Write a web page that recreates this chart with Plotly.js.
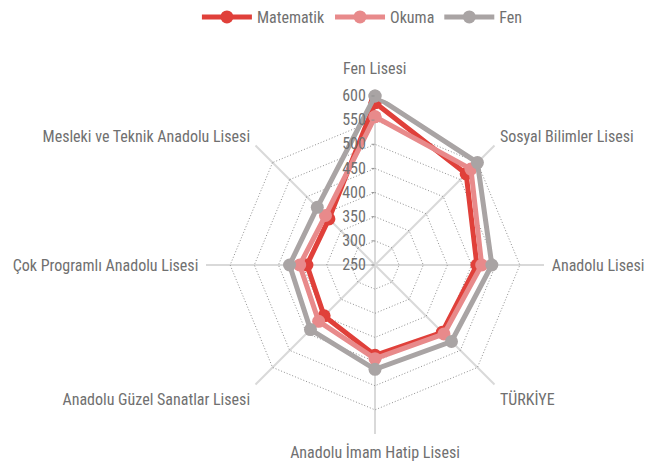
<!DOCTYPE html>
<html>
<head>
<meta charset="utf-8">
<script src="https://cdn.plot.ly/plotly-3.0.1.min.js"></script>
<style>html,body{margin:0;padding:0;background:#fff;}#chart{width:653px;height:461px;}</style>
</head>
<body>
<div id="chart"></div>
<script>
const categories = ["Fen Lisesi","Sosyal Bilimler Lisesi","Anadolu Lisesi","TÜRKİYE","Anadolu İmam Hatip Lisesi","Anadolu Güzel Sanatlar Lisesi","Çok Programlı Anadolu Lisesi","Mesleki ve Teknik Anadolu Lisesi"];
const matematik = [586, 517, 461, 447, 437, 399, 391, 385];
const okuma     = [557, 531, 471, 452, 444, 415, 406, 395];
const fen       = [600, 550, 492, 474, 466, 439, 427, 419];
const radialTicks = [250, 300, 350, 400, 450, 500, 550, 600];

const FONT = '"Roboto Condensed", "Liberation Sans Narrow", "Arial Narrow", sans-serif';
function closed(a){ return a.concat([a[0]]); }
function series(name, vals, color){
  return {
    type: 'scatterpolar', name: name,
    r: closed(vals), theta: closed(categories),
    mode: 'lines+markers',
    line: {color: color, width: 5},
    marker: {color: color, size: 13},
    cliponaxis: false
  };
}
const data = [
  series('Matematik', matematik, '#E0403A'),
  series('Okuma', okuma, '#E88A8B'),
  series('Fen', fen, '#A9A4A4')
];
// top category label is drawn as an annotation so it can sit higher, clear of the radial tick labels
const angLabels = categories.map((c, i) => i === 0 ? '' : c);
const layout = {
  width: 653, height: 461,
  margin: {l: 0, r: 0, t: 0, b: 0},
  paper_bgcolor: '#fff',
  font: {family: FONT, color: '#707070', size: 16},
  showlegend: true,
  legend: {orientation: 'h', x: 0.555, xanchor: 'center', y: 1.0, yanchor: 'top', font: {size: 16, color: '#707070'}, itemwidth: 50},
  annotations: [{
    text: categories[0], xref: 'paper', yref: 'paper',
    x: 375/653, y: 1 - 68/461, xanchor: 'center', yanchor: 'middle',
    showarrow: false, font: {size: 16, color: '#707070'}
  }],
  polar: {
    domain: {x: [206/653, 544/653], y: [27/461, 365/461]},
    gridshape: 'linear',
    bgcolor: 'rgba(0,0,0,0)',
    radialaxis: {
      range: [250, 600], tickvals: radialTicks, ticktext: radialTicks.map(String),
      angle: 90, tickangle: 90, side: 'counterclockwise',
      showline: false, gridcolor: '#8f8f8f', griddash: '1px,2px', gridwidth: 1,
      ticks: 'outside', ticklen: 3, tickcolor: '#8f8f8f',
      tickfont: {size: 16, color: '#707070'}
    },
    angularaxis: {
      rotation: 90, direction: 'clockwise',
      tickmode: 'array', tickvals: categories, ticktext: angLabels,
      showline: false, linecolor: '#9a9a9a',
      gridcolor: '#d9d9d9', gridwidth: 1.5,
      ticks: 'outside', ticklen: 4, tickcolor: 'rgba(0,0,0,0)',
      tickfont: {size: 16, color: '#707070'}
    }
  }
};
Plotly.newPlot('chart', data, layout, {displayModeBar: false});
</script>
</body>
</html>
